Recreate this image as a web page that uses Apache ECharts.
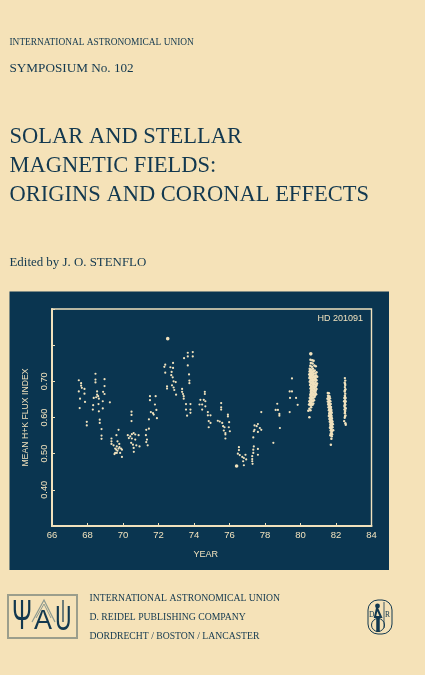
<!DOCTYPE html>
<html>
    <head>
        <meta charset="utf-8">
        <title>Solar and Stellar Magnetic Fields</title>
        <style>*{box-sizing:border-box}html,body{margin:0;padding:0;background:#f5e2b8}#chart{width:425px;height:675px}</style>
    </head>
    <body>
        <div id="chart"></div>
        <script type="text/javascript" src="https://fastly.jsdelivr.net/npm/echarts@6/dist/echarts.min.js"></script>
        <script>
            const xTickLabels = ['66', '68', '70', '72', '74', '76', '78', '80', '82', '84'];
            const yTickLabels = ['0.40', '0.50', '0.60', '0.70'];
            const xName = 'YEAR';
            const yName = 'MEAN H+K FLUX INDEX';
            const starName = 'HD 201091';

            // [year, flux index], one observing season at a time
            const season1968 = [[67.51,.703],[67.64,.695],[67.64,.688],[67.68,.682],[67.83,.679],[67.51,.672],[67.83,.666],[67.58,.652],[67.86,.643],[67.56,.626],[68.45,.721],[68.45,.705],[68.45,.697],[68.96,.706],[68.96,.687],[68.54,.672],[68.54,.663],[68.35,.654],[68.49,.656],[68.60,.659],[68.64,.652],[68.32,.634],[68.62,.637],[68.30,.622],[68.64,.617],[68.86,.645],[68.88,.671],[68.96,.665],[69.26,.642],[68.86,.625],[67.96,.588],[67.96,.578],[68.69,.594],[68.69,.585],[68.79,.568],[68.79,.550],[68.79,.541]];
            const season1970 = [[70.48,.616],[70.48,.607],[70.48,.590],[69.75,.566],[69.63,.551],[69.35,.542],[69.35,.534],[69.35,.527],[69.69,.534],[69.47,.523],[69.65,.520],[69.80,.518],[69.56,.514],[69.75,.514],[69.94,.511],[69.56,.502],[69.65,.502],[69.84,.502],[69.94,.491],[69.52,.499],[69.62,.511],[69.69,.508],[69.79,.527],[69.89,.514],[70.27,.551],[70.41,.548],[70.60,.557],[70.69,.553],[70.88,.551],[70.50,.542],[70.69,.539],[70.46,.530],[70.56,.525],[70.60,.516],[70.75,.523],[70.93,.520],[70.61,.505],[71.29,.551],[71.35,.539],[71.31,.532],[71.39,.523],[71.31,.566],[71.46,.569],[70.33,.543],[70.50,.554]];
            const season1972 = [[71.52,.659],[71.52,.648],[71.84,.659],[71.80,.636],[71.88,.621],[71.57,.615],[71.69,.612],[71.73,.608],[71.46,.595],[71.91,.598],[72.38,.746],[72.33,.740],[72.82,.751],[72.67,.739],[72.82,.737],[72.38,.724],[72.74,.726],[72.72,.717],[72.80,.711],[72.85,.700],[72.97,.698],[72.48,.686],[72.48,.680],[72.76,.689],[72.85,.683],[72.89,.676],[72.99,.663]];
            const season1974 = [[73.44,.764],[73.65,.779],[73.65,.769],[73.93,.781],[73.93,.769],[73.65,.744],[73.72,.719],[73.74,.702],[73.74,.695],[73.33,.679],[73.33,.671],[73.38,.665],[73.42,.659],[73.42,.652],[73.55,.637],[73.80,.637],[73.55,.622],[73.80,.622],[73.80,.613],[73.61,.605],[74.61,.671],[74.61,.665],[74.36,.649],[74.55,.649],[74.64,.645],[74.31,.636],[74.46,.636],[74.64,.631],[74.46,.622],[74.78,.615],[74.78,.606],[74.93,.606],[74.83,.590],[74.93,.585],[74.83,.573]];
            const season1976 = [[75.34,.591],[75.45,.589],[75.53,.640],[75.53,.628],[75.53,.622],[75.59,.585],[75.64,.576],[75.72,.573],[75.91,.608],[75.91,.603],[75.98,.587],[75.96,.573],[76.02,.562],[75.68,.564],[75.77,.557],[75.77,.553],[75.77,.542],[76.53,.518],[76.53,.510],[76.47,.500],[76.58,.496],[76.72,.491],[76.90,.497],[76.81,.488],[76.94,.484],[76.77,.479],[76.81,.468]];
            const season1978 = [[77.37,.520],[77.34,.511],[77.60,.513],[77.34,.502],[77.60,.497],[77.28,.493],[77.28,.485],[77.28,.479],[77.30,.472],[77.53,.576],[77.79,.566],[77.60,.560],[77.41,.566],[77.34,.545],[77.60,.582],[77.41,.578],[77.71,.571],[77.37,.562],[77.79,.615],[78.84,.571],[78.47,.530],[78.69,.638],[78.60,.621],[78.73,.621],[78.81,.610],[78.81,.605],[79.39,.615],[79.52,.708],[79.39,.672],[79.52,.672],[79.41,.654],[79.75,.654],[79.84,.635]];
            const season1980 = [[80.56,.760],[80.66,.758],[80.74,.757],[80.58,.751],[80.68,.749],[80.78,.744],[80.86,.742],[80.55,.743],[80.64,.740],[80.52,.735],[80.60,.733],[80.70,.735],[80.80,.730],[80.51,.727],[80.58,.726],[80.66,.724],[80.74,.728],[80.84,.722],[80.90,.725],[80.49,.719],[80.55,.717],[80.62,.715],[80.70,.718],[80.78,.714],[80.88,.716],[80.94,.713],[80.50,.709],[80.57,.707],[80.65,.710],[80.73,.705],[80.81,.708],[80.90,.703],[80.52,.699],[80.60,.697],[80.68,.700],[80.76,.695],[80.85,.698],[80.93,.694],[80.54,.690],[80.62,.688],[80.70,.691],[80.79,.685],[80.88,.687],[80.56,.680],[80.63,.678],[80.72,.681],[80.80,.676],[80.90,.679],[80.58,.671],[80.66,.669],[80.74,.672],[80.84,.668],[80.88,.664],[80.55,.663],[80.62,.660],[80.71,.662],[80.79,.657],[80.52,.654],[80.60,.651],[80.68,.653],[80.76,.648],[80.50,.645],[80.58,.642],[80.66,.644],[80.72,.639],[80.48,.636],[80.56,.634],[80.63,.636],[80.60,.628],[80.50,.624],[80.56,.620],[80.44,.619],[80.50,.601],
                [80.54,.731],[80.62,.729],[80.70,.727],[80.76,.722],[80.54,.722],[80.60,.720],[80.66,.716],[80.74,.712],[80.84,.711],[80.53,.713],[80.60,.711],[80.69,.706],[80.77,.702],[80.86,.706],[80.56,.702],[80.64,.703],[80.72,.697],[80.81,.692],[80.90,.690],[80.58,.694],[80.66,.694],[80.74,.688],[80.84,.683],[80.60,.684],[80.68,.685],[80.76,.680],[80.86,.674],[80.60,.675],[80.70,.675],[80.78,.671],[80.59,.667],[80.67,.664],[80.75,.665],[80.82,.661],[80.58,.658],[80.65,.656],[80.74,.655],[80.56,.649],[80.64,.648],[80.71,.646],[80.54,.640],[80.61,.638],[80.68,.635]];
            const season1981 = [[81.54,.668],[81.60,.667],[81.55,.660],[81.63,.659],[81.52,.652],[81.60,.650],[81.66,.653],[81.54,.644],[81.61,.642],[81.68,.645],[81.56,.636],[81.63,.634],[81.70,.637],[81.58,.628],[81.65,.626],[81.72,.629],[81.60,.620],[81.67,.618],[81.74,.621],[81.62,.612],[81.68,.610],[81.76,.613],[81.60,.604],[81.67,.602],[81.75,.605],[81.63,.596],[81.70,.594],[81.77,.597],[81.65,.588],[81.72,.586],[81.80,.589],[81.68,.580],[81.74,.578],[81.82,.581],[81.66,.572],[81.73,.570],[81.80,.573],[81.70,.564],[81.76,.562],[81.84,.565],[81.71,.556],[81.78,.554],[81.68,.551],[81.76,.548],[81.74,.541],[81.71,.525],
                [81.58,.656],[81.62,.647],[81.59,.639],[81.65,.631],[81.62,.623],[81.70,.624],[81.65,.615],[81.72,.616],[81.64,.608],[81.71,.607],[81.66,.599],[81.74,.600],[81.68,.591],[81.76,.592],[81.70,.583],[81.78,.584],[81.70,.575],[81.77,.576],[81.74,.567],[81.75,.558]];
            const season1982 = [[82.50,.709],[82.52,.702],[82.49,.696],[82.52,.690],[82.50,.684],[82.53,.678],[82.49,.672],[82.52,.666],[82.50,.660],[82.54,.654],[82.47,.654],[82.51,.648],[82.46,.645],[82.55,.644],[82.50,.640],[82.53,.635],[82.47,.632],[82.51,.628],[82.55,.625],[82.48,.622],[82.52,.618],[82.50,.612],[82.53,.606],[82.49,.599],[82.46,.590],[82.53,.584],[82.55,.580],[82.51,.693],[82.50,.675],[82.51,.657],[82.50,.636],[82.50,.615],[82.51,.603]];
            // the few points printed as heavier dots
            const heavyPoints = [[72.52,.818],[76.40,.466],[80.58,.776]];

            const paper = '#f5e2b8';
            const panel = '#0a3550';
            const ink = '#12384f';
            const pale = '#f1e2bd';
            const markGrey = '#8d9a90';
            const serif = '"Liberation Serif", serif';
            const sans = '"Liberation Sans", sans-serif';

            function coverText(text, x, y, size, color, family, scaleY) {
                return {
                    type: 'text', z: 5, x: x, y: y, scaleY: scaleY || 1,
                    style: { text: text, x: 0, y: 0, fill: color || ink, font: size + 'px ' + (family || serif), verticalAlign: 'middle', align: 'left' }
                };
            }
            function logoLine(points, color, width) {
                return { type: 'polyline', z: 5, shape: { points: points }, style: { stroke: color || ink, lineWidth: width || 1, fill: null } };
            }

            const graphics = [
                { type: 'rect', z: -10, shape: { x: 9.5, y: 291.5, width: 379.5, height: 278.5 }, style: { fill: panel } },
                coverText('INTERNATIONAL ASTRONOMICAL UNION', 9.5, 43, 9.4),
                coverText('SYMPOSIUM No. 102', 9.5, 69, 13.2),
                coverText('SOLAR AND STELLAR', 9.5, 137, 22.5),
                coverText('MAGNETIC FIELDS:', 9.5, 166, 22.5),
                coverText('ORIGINS AND CORONAL EFFECTS', 9.5, 195, 22.5),
                coverText('Edited by J. O. STENFLO', 9.5, 263, 12.9),
                coverText(starName, 317.5, 319, 9, pale, sans),
                coverText('INTERNATIONAL ASTRONOMICAL UNION', 89.5, 598, 9.7),
                coverText('D. REIDEL PUBLISHING COMPANY', 89.5, 617, 9.7),
                coverText('DORDRECHT / BOSTON / LANCASTER', 89.5, 636, 9.7),
                // IAU mark
                { type: 'rect', z: 5, shape: { x: 8, y: 595, width: 69, height: 43 }, style: { fill: null, stroke: '#9b9e8c', lineWidth: 2 } },
                coverText('Ψ', 12, 617, 24, ink, sans, 1.75),
                coverText('A', 34, 622, 27, ink, sans),
                logoLine([[36, 618], [44, 604], [51, 618]], markGrey, 1),
                logoLine([[32, 622], [44, 600], [55, 622]], markGrey, 1.2),
                coverText('U', 55, 620, 23, ink, sans, 1.5),
                logoLine([[63, 600], [63, 622]], ink, 1.2),
                // publisher mark
                { type: 'rect', z: 5, shape: { x: 368, y: 600, width: 24, height: 34, r: 10 }, style: { fill: null, stroke: ink, lineWidth: 1 } },
                coverText('D', 369, 615, 7.5),
                coverText('R', 385, 615, 7.5),
                { type: 'circle', z: 5, shape: { cx: 377.5, cy: 606, r: 2.4 }, style: { fill: ink } },
                logoLine([[377, 608], [375, 617], [381, 617], [377, 608]], ink, 2),
                { type: 'circle', z: 5, shape: { cx: 378, cy: 625, r: 6.5 }, style: { fill: null, stroke: ink, lineWidth: 1 } },
                logoLine([[378, 616], [378, 632]], ink, 3.5),
                logoLine([[384, 602], [384, 628]], ink, 0.8)
            ];

            function dots(name, data, size) {
                return { name: name, type: 'scatter', data: data, symbol: 'circle', symbolSize: size, itemStyle: { color: pale, opacity: 1 }, silent: true, animation: false };
            }

            const chart = echarts.init(document.getElementById('chart'), null, { renderer: 'canvas' });
            chart.setOption({
                backgroundColor: paper,
                animation: false,
                graphic: graphics,
                grid: { left: 52, right: 53.5, top: 309, bottom: 149, show: true, backgroundColor: 'transparent', borderColor: pale, borderWidth: 1.4 },
                xAxis: {
                    type: 'value', min: 66, max: 84, interval: 2,
                    name: xName, nameLocation: 'middle', nameGap: 24,
                    nameTextStyle: { color: pale, fontFamily: sans, fontSize: 9, padding: [0, 12, 0, 0] },
                    axisLine: { lineStyle: { color: pale, width: 2 } },
                    axisTick: { inside: true, length: 3, lineStyle: { color: pale, width: 1 } },
                    axisLabel: { color: pale, fontFamily: sans, fontSize: 9.5, margin: 4, showMinLabel: true, showMaxLabel: true, formatter: v => xTickLabels.includes(String(v)) ? String(v) : '' },
                    splitLine: { show: false }
                },
                yAxis: {
                    type: 'value', min: 0.3, max: 0.9, interval: 0.1,
                    name: yName, nameLocation: 'middle', nameGap: 22, nameRotate: 90,
                    nameTextStyle: { color: pale, fontFamily: sans, fontSize: 8.7 },
                    axisLine: { lineStyle: { color: pale, width: 2 } },
                    axisTick: { inside: true, length: 3, lineStyle: { color: pale, width: 1 } },
                    axisLabel: { color: pale, fontFamily: sans, fontSize: 9.2, rotate: 90, margin: 3, formatter: v => yTickLabels.includes(v.toFixed(2)) ? v.toFixed(2) : '' },
                    splitLine: { show: false }
                },
                series: [
                    dots('1968', season1968, 2.2),
                    dots('1970', season1970, 2.2),
                    dots('1972', season1972, 2.2),
                    dots('1974', season1974, 2.2),
                    dots('1976', season1976, 2.2),
                    dots('1978', season1978, 2.2),
                    dots('1980', season1980, 2.5),
                    dots('1981', season1981, 2.5),
                    dots('1982', season1982, 2.4),
                    dots('heavy', heavyPoints, 3.6)
                ]
            });
        </script>
    </body>
</html>
